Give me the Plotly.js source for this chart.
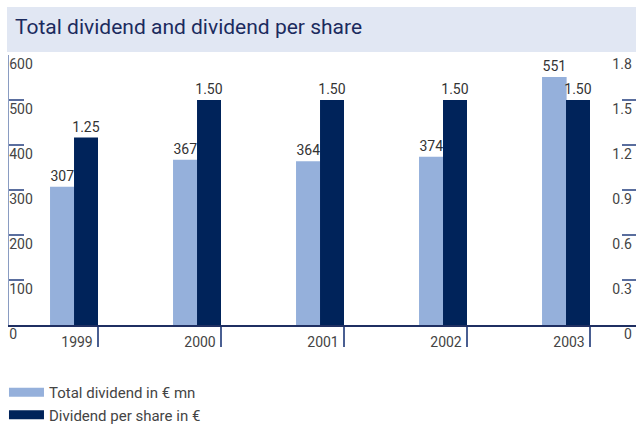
<!DOCTYPE html>
<html>
<head>
<meta charset="utf-8">
<script src="https://cdn.plot.ly/plotly-3.0.1.min.js"></script>
<style>
  html, body { margin: 0; padding: 0; background: #fff; }
  #plot { width: 636px; height: 425px; }
</style>
</head>
<body>
<div id="plot"></div>
<script>
// years and the two series
var years = ["1999", "2000", "2001", "2002", "2003"];
var totalDividend = [307, 367, 364, 374, 551];     // € mn
var dividendPerShare = [1.25, 1.50, 1.50, 1.50, 1.50]; // €

var FONT = "Roboto, Liberation Sans, sans-serif";
var lightBlue = "#95b0db";
var navy = "#00235a";

var trace1 = {
    x: years,
    y: totalDividend,
    type: "bar",
    name: "Total dividend in € mn",
    marker: {color: lightBlue},
    offset: -0.39,
    width: 0.2,
    text: totalDividend.map(v => String(v)),
    textposition: "outside",
    constraintext: "none",
    textfont: {family: FONT, size: 14, color: "#333"},
    cliponaxis: false,
    showlegend: false,
    hoverinfo: "none"
}

var trace2 = {
    x: years,
    y: dividendPerShare,
    yaxis: "y2",
    type: "bar",
    name: "Dividend per share in €",
    marker: {color: navy},
    offset: -0.195,
    width: 0.195,
    text: dividendPerShare.map(v => v.toFixed(2)),
    textposition: "outside",
    constraintext: "none",
    textfont: {family: FONT, size: 14, color: "#333"},
    cliponaxis: false,
    showlegend: false,
    hoverinfo: "none"
}

// legend entries drawn as thick lines so the swatch is a wide bar
var leg1 = {x: [null], y: [null], type: "scatter", mode: "lines",
    name: "Total dividend in € mn", line: {color: lightBlue, width: 9}};
var leg2 = {x: [null], y: [null], type: "scatter", mode: "lines",
    name: "Dividend per share in €", line: {color: navy, width: 9}};

var layout = {
    width: 636,
    height: 425,
    margin: {l: 9, r: 0, t: 55, b: 100},
    paper_bgcolor: "#fff",
    plot_bgcolor: "#fff",
    barmode: "overlay",
    font: {family: FONT, size: 14, color: "#444"},
    title: {
        text: "Total dividend and dividend per share",
        font: {family: FONT, size: 21, color: "#1b2b5e"},
        x: 0, xref: "paper", xanchor: "left",
        y: 1, yref: "container", yanchor: "top",
        pad: {t: 19, l: 6}
    },
    shapes: [{
        type: "rect", layer: "below",
        xref: "paper", yref: "paper",
        x0: -0.0032, x1: 1, y0: 1.011, y1: 1.178,
        fillcolor: "#e1e7f3", line: {width: 0}
    }],
    xaxis: {
        type: "category",
        range: [-0.7236, 4.374],
        showgrid: false,
        showline: true, linecolor: "#1f2f62", linewidth: 1.5,
        ticks: "outside", ticklen: 20, tickwidth: 1.5, tickcolor: "#4a5f92",
        ticklabelshift: -21,
        ticklabelstandoff: -16,
        tickfont: {family: FONT, size: 14, color: "#444"},
        fixedrange: true
    },
    yaxis: {
        range: [0, 600],
        dtick: 100,
        showgrid: false,
        zeroline: false,
        showline: true, linecolor: "#8a9cc2", linewidth: 1.5,
        ticks: "inside", ticklen: 15, tickwidth: 1.5, tickcolor: "#5a6e9e",
        ticklabelposition: "inside",
        ticklabeloverflow: "allow",
        ticklabelshift: 9,
        ticklabelstandoff: -15,
        tickfont: {family: FONT, size: 14, color: "#444"},
        fixedrange: true
    },
    yaxis2: {
        overlaying: "y",
        side: "right",
        range: [0, 1.8],
        dtick: 0.3,
        showgrid: false,
        zeroline: false,
        showline: false,
        ticks: "inside", ticklen: 14, tickwidth: 1.5, tickcolor: "#5a6e9e",
        ticklabelposition: "inside",
        ticklabeloverflow: "allow",
        ticklabelshift: 9,
        ticklabelstandoff: -10,
        tickfont: {family: FONT, size: 14, color: "#444"},
        fixedrange: true
    },
    legend: {
        orientation: "v",
        xref: "paper", yref: "container",
        x: -0.008, xanchor: "left",
        y: 0.1153, yanchor: "top",
        itemwidth: 35,
        font: {family: FONT, size: 15, color: "#444"},
        bgcolor: "rgba(0,0,0,0)"
    }
}

Plotly.newPlot("plot", [trace1, trace2, leg1, leg2], layout, {displayModeBar: false, staticPlot: true});
</script>
</body>
</html>
